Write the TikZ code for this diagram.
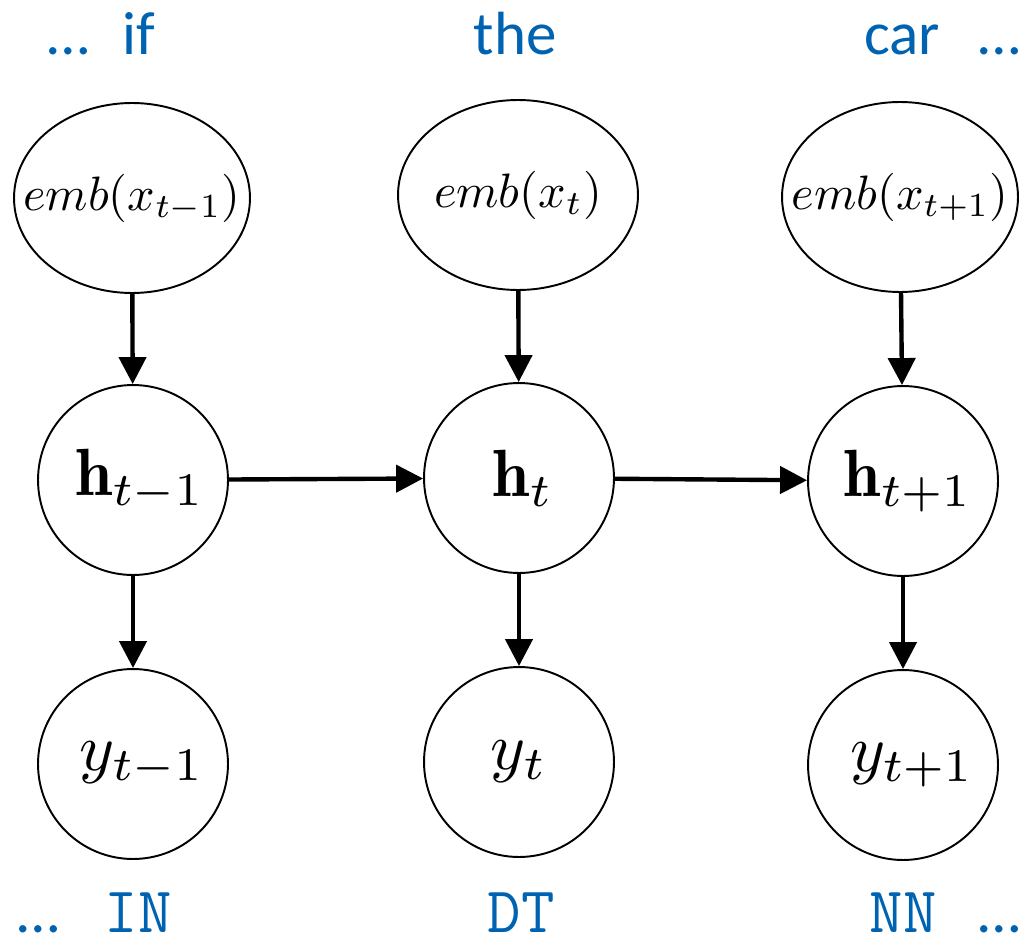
\documentclass[tikz,border=0pt]{standalone}
\usepackage{fontspec}
\newfontfamily\wordfont{Carlito}
\usetikzlibrary{shapes.geometric,arrows.meta}
\definecolor{wordblue}{RGB}{0,99,177}
\newcommand{\embtext}[1]{\makebox[0pt]{\scalebox{2.75}{$#1$}}}
\newcommand{\unittext}[1]{\scalebox{3.8}{$#1$}}

\begin{document}
\begin{tikzpicture}[x=0.02cm,y=-0.02cm,
  embnode/.style={draw, ellipse, line width=1.1pt, minimum width=4.72cm, minimum height=3.8cm, inner sep=0pt},
  unit/.style={draw, circle, line width=1.1pt, minimum size=3.8cm, inner sep=0pt},
  link/.style={line width=2.5pt, -{Triangle[length=0.54cm,width=0.54cm]}},
  wordnode/.style={anchor=base, text=wordblue, inner sep=0pt, text depth=0pt, font=\wordfont\fontsize{34.7}{36}\selectfont},
  tagnode/.style={anchor=base, text=wordblue, inner sep=0pt, text depth=0pt, font=\ttfamily\fontsize{37}{38}\selectfont}]
\useasboundingbox (0,0) rectangle (1026,939);

\node[wordnode] (wdots1) at (69,55) {…};
\node[wordnode] (w1) at (139,55) {if};
\node[wordnode] (w2) at (515,55) {the};
\node[wordnode] (w3) at (902,55) {car};
\node[wordnode] (wdots2) at (1000,55) {…};

\node[embnode] (e1) at (132,198) {\embtext{emb(x_{t-1})}};
\node[embnode, minimum width=4.8cm] (e2) at (518,195) {\embtext{emb(x_t)}};
\node[embnode] (e3) at (900,197) {\embtext{emb(x_{t+1})}};

\node[unit] (h1) at (133,480) {\hspace{0.28cm}\unittext{\mathbf{h}_{t-1}}};
\node[unit] (h2) at (519,478) {\hspace{0.16cm}\unittext{\mathbf{h}_t}};
\node[unit] (h3) at (903,481) {\hspace{0.2cm}\unittext{\mathbf{h}_{t+1}}};

\node[unit] (y1) at (133,764) {\hspace{0.36cm}\unittext{y_{t-1}}};
\node[unit] (y2) at (519,762) {\unittext{y_t}};
\node[unit] (y3) at (903,765) {\hspace{0.36cm}\unittext{y_{t+1}}};

\draw[link] (e1) -- (h1);
\draw[link] (e2) -- (h2);
\draw[link] (e3) -- (h3);
\draw[link] (h1) -- (h2);
\draw[link] (h2) -- (h3);
\draw[link] (h1) -- (y1);
\draw[link] (h2) -- (y2);
\draw[link] (h3) -- (y3);

\node[wordnode] (tdots1) at (39,932) {…};
\node[tagnode] (t1) at (138,932) {IN};
\node[tagnode] (t2) at (521,932) {DT};
\node[tagnode] (t3) at (903,932) {NN};
\node[wordnode] (tdots2) at (1000,932) {…};
\end{tikzpicture}
\end{document}
